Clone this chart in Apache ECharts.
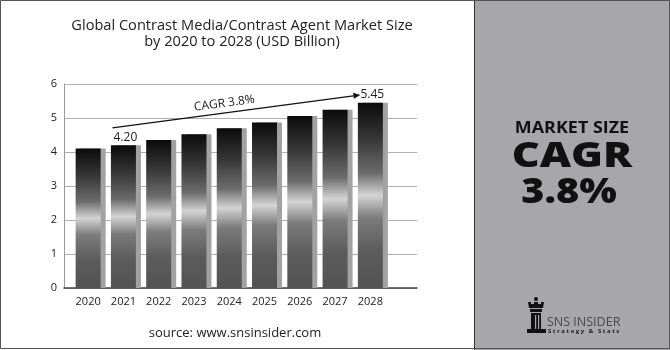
<!DOCTYPE html>
<html><head><meta charset="utf-8">
<script src="https://cdn.jsdelivr.net/npm/echarts@6/dist/echarts.min.js"></script>
<style>html,body{margin:0;padding:0;background:#fff}#c{width:670px;height:350px}</style>
</head><body><div id="c"></div>
<script>
const years = ['2020','2021','2022','2023','2024','2025','2026','2027','2028'];
const values = [4.10, 4.20, 4.35, 4.52, 4.70, 4.87, 5.06, 5.24, 5.45];
const labeledYears = ['2021','2028'];
const yMin = 0, yMax = 6, yStep = 1;
const titleLines = ['Global Contrast Media/Contrast Agent Market Size', 'by 2020 to 2028 (USD Billion)'];
const cagrText = 'CAGR 3.8%';
const sourceText = 'source: www.snsinsider.com';

const chart = echarts.init(document.getElementById('c'), null, {renderer:'canvas'});
const barGrad = new echarts.graphic.LinearGradient(0,0,0,1,[
  {offset:0, color:'#0b0b0b'},
  {offset:0.2, color:'#383838'},
  {offset:0.38, color:'#6c6c6c'},
  {offset:0.5, color:'#d4d4d4'},
  {offset:0.62, color:'#7c7c7c'},
  {offset:0.8, color:'#5c5c5c'},
  {offset:1, color:'#535353'}
]);
const FONT = '"Open Sans", sans-serif';
const barData = values.map((v,i)=>({
  value:v,
  label:{show: labeledYears.includes(years[i])}
}));

chart.setOption({
  animation:false,
  backgroundColor:'#fff',
  title:{
    text: titleLines.join('\n'),
    left: 237, top: 13, textAlign:'center',
    textStyle:{fontFamily:FONT, fontSize:14.6, fontWeight:'normal', color:'#222', lineHeight:16}
  },
  grid:[
    {left:64, right:253, top:84, bottom:62},
    {left:70.5, right:282, top:84, bottom:62}
  ],
  xAxis:[
    {gridIndex:0, type:'value', min:0, max:1, show:true,
      axisLine:{show:true, onZero:false, lineStyle:{color:'#444', width:1.5}},
      axisTick:{show:false}, axisLabel:{show:false}, splitLine:{show:false}},
    {gridIndex:1, type:'category', data:years,
      axisLine:{show:false}, axisTick:{show:false},
      axisLabel:{fontFamily:FONT, fontSize:11, color:'#222', margin:8}}
  ],
  yAxis:[
    {gridIndex:0, type:'value', min:yMin, max:yMax, interval:yStep,
      axisLine:{show:true, lineStyle:{color:'#999'}}, axisTick:{show:false},
      axisLabel:{fontFamily:FONT, fontSize:11, color:'#222', margin:7},
      splitLine:{show:true, lineStyle:{color:'#b0b0b0', width:1}}},
    {gridIndex:1, type:'value', min:yMin, max:yMax, interval:yStep, show:false}
  ],
  series:[{
    type:'bar', xAxisIndex:1, yAxisIndex:1, data:barData, barWidth:25,
    itemStyle:{color:barGrad, shadowColor:'#a2a2a2', shadowOffsetX:5, shadowOffsetY:0, shadowBlur:0},
    label:{show:false, position:'top', distance:2, offset:[2,0], fontFamily:FONT, fontSize:12, color:'#222',
      formatter:p=>p.value.toFixed(2)}
  }]
});

// annotation arrow positioned through the chart's scales
const pStart = chart.convertToPixel({xAxisIndex:1, yAxisIndex:1}, ['2021', 4.71]);
const pEnd = chart.convertToPixel({xAxisIndex:1, yAxisIndex:1}, ['2028', 5.68]);
const x1 = pStart[0]-11, y1 = pStart[1], x2 = pEnd[0]-10, y2 = pEnd[1];
const ang = Math.atan2(y2-y1, x2-x1);
const hl = 7, hw = 3;
const bx = x2 - hl*Math.cos(ang), by = y2 - hl*Math.sin(ang);
const head = [[x2,y2],[bx + hw*Math.sin(ang), by - hw*Math.cos(ang)],[bx - hw*Math.sin(ang), by + hw*Math.cos(ang)]];
const mx = (x1+x2)/2, my = (y1+y2)/2;

chart.setOption({
  graphic:[
    {type:'rect', shape:{x:474, y:0, width:196, height:350}, style:{fill:'#a7a7aa'}, z:-1},
    {type:'line', shape:{x1:474.5, y1:0, x2:474.5, y2:350}, style:{stroke:'#333', lineWidth:1}},
    {type:'rect', shape:{x:0.5, y:0.5, width:669, height:348}, style:{fill:null, stroke:'#555', lineWidth:1}},
    {type:'line', shape:{x1:x1, y1:y1, x2:bx, y2:by}, style:{stroke:'#111', lineWidth:1.2}},
    {type:'polygon', shape:{points:head}, style:{fill:'#111'}},
    {type:'text', x:mx-12, y:my-8, rotation:-ang, style:{text:cagrText, font:'12px '+FONT, fill:'#222', align:'center', verticalAlign:'middle'}},
    {type:'text', x:235, y:333, style:{text:sourceText, font:'13px '+FONT, fill:'#222', align:'center', verticalAlign:'middle'}},
    {type:'text', x:572, y:128, scaleX:1.12, style:{text:'MARKET SIZE', font:'bold 16px '+FONT, fill:'#111', align:'center', verticalAlign:'middle'}},
    {type:'text', x:572, y:157, scaleX:1.2, style:{text:'CAGR', font:'800 36px '+FONT, fill:'#111', align:'center', verticalAlign:'middle'}},
    {type:'text', x:569, y:193, scaleX:1.1, style:{text:'3.8%', font:'800 36px '+FONT, fill:'#111', align:'center', verticalAlign:'middle'}},
    // logo
    {type:'circle', shape:{cx:536, cy:299, r:2}, style:{fill:'#111'}},
    {type:'polygon', shape:{points:[[528,302],[531,302],[531,304],[534,304],[534,302],[538,302],[538,304],[541,304],[541,302],[544,302],[543,308],[529,308]]}, style:{fill:'#111'}},
    {type:'rect', shape:{x:530, y:309, width:12, height:3}, style:{fill:'#111'}},
    {type:'rect', shape:{x:531, y:313, width:10, height:16}, style:{fill:'#111'}},
    {type:'rect', shape:{x:535, y:315, width:1.2, height:14}, style:{fill:'#a7a7aa'}},
    {type:'rect', shape:{x:538, y:315, width:1.2, height:14}, style:{fill:'#a7a7aa'}},
    {type:'rect', shape:{x:527, y:329, width:19, height:4}, style:{fill:'#111'}},
    {type:'text', x:547, y:322, style:{text:'SNS INSIDER', font:'12.5px '+FONT, fill:'#4a4a4a', align:'left', verticalAlign:'middle'}},
    {type:'text', x:548, y:331, style:{text:'S t r a t e g y   &   S t a t s', font:'bold 6px '+FONT, fill:'#222', align:'left', verticalAlign:'middle'}}
  ]
});
</script></body></html>
